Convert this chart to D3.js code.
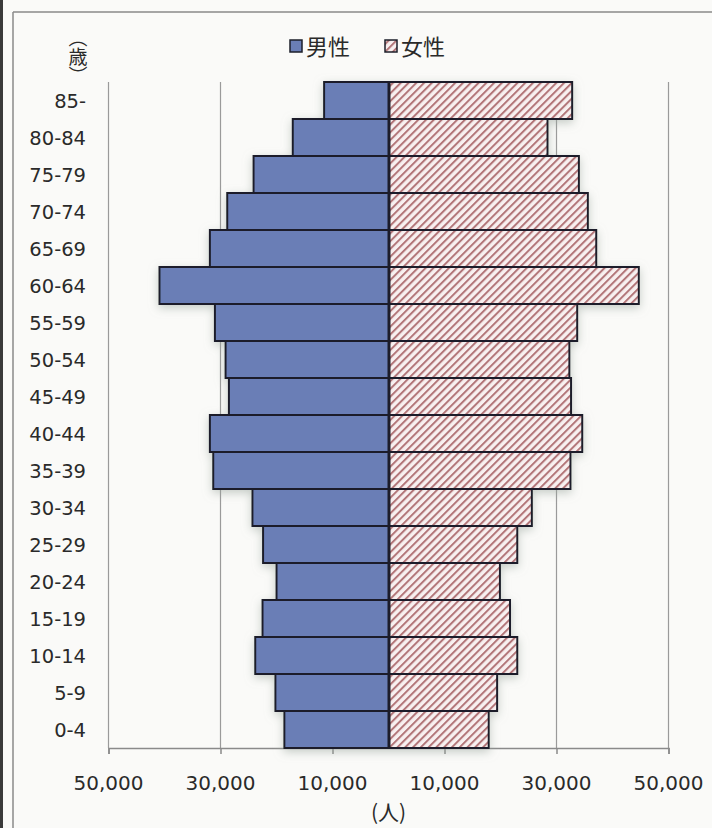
<!DOCTYPE html>
<meta charset="utf-8">
<style>
body { margin: 0; background: #fafaf8; }
svg { display: block; }
</style>
<svg width="712" height="828"></svg>
<script src="https://d3js.org/d3.v7.min.js"></script>
<script>

// age groups, top to bottom
var ages = ['85-', '80-84', '75-79', '70-74', '65-69', '60-64', '55-59', '50-54', '45-49',
            '40-44', '35-39', '30-34', '25-29', '20-24', '15-19', '10-14', '5-9', '0-4']

// population (persons)
var male = [11500, 17100, 24100, 28800, 31900, 40900, 31000, 29100, 28500,
            31900, 31300, 24300, 22400, 20000, 22500, 23800, 20200, 18600]
var female = [32800, 28400, 34000, 35600, 37100, 44700, 33700, 32300, 32600,
              34600, 32500, 25600, 23000, 19900, 21700, 23000, 19400, 17900]

var tickValues = [-50000, -30000, -10000, 10000, 30000, 50000]
var tickLabels = ['50,000', '30,000', '10,000', '10,000', '30,000', '50,000']

var svg = d3.select('svg')
var font = '"DejaVu Sans", sans-serif'
var cjk = '"Noto Sans CJK JP", sans-serif'

var plotTop = 82, plotBottom = 748

var x = d3.scaleLinear().domain([-50000, 50000]).range([108.5, 668.5])
var y = d3.scaleBand().domain(ages).range([plotTop, plotBottom]).padding(0)

// page frame (scan edges)
svg.append('rect').attr('x', 0).attr('y', 0).attr('width', 3).attr('height', 828).attr('fill', '#3a3a3a')
svg.append('line').attr('x1', 13).attr('y1', 12).attr('x2', 13).attr('y2', 828)
  .attr('stroke', '#8a8a8a').attr('stroke-width', 1.5)
svg.append('line').attr('x1', 13).attr('y1', 12).attr('x2', 712).attr('y2', 12)
  .attr('stroke', '#8a8a8a').attr('stroke-width', 1.5)

var defs = svg.append('defs')
var pat = defs.append('pattern')
  .attr('id', 'hatch')
  .attr('patternUnits', 'userSpaceOnUse')
  .attr('width', 5.5).attr('height', 5.5)
  .attr('patternTransform', 'rotate(45)')
pat.append('rect').attr('width', 5.5).attr('height', 5.5).attr('fill', '#f8f0f0')
pat.append('rect').attr('x', 0).attr('width', 2).attr('height', 5.5).attr('fill', '#b27578')

var shadow = defs.append('filter').attr('id', 'shadow')
  .attr('x', '-20%').attr('y', '-20%').attr('width', '140%').attr('height', '140%')
shadow.append('feDropShadow')
  .attr('dx', 0).attr('dy', 3).attr('stdDeviation', 5)
  .attr('flood-color', '#9aa69c').attr('flood-opacity', 0.55)

// gridlines
svg.append('g')
  .selectAll('line')
  .data(tickValues)
  .enter()
  .append('line')
  .attr('x1', function (d) { return x(d) })
  .attr('x2', function (d) { return x(d) })
  .attr('y1', plotTop)
  .attr('y2', plotBottom)
  .attr('stroke', '#9a9a9a')
  .attr('stroke-width', 1.2)

// bottom axis
var axis = svg.append('g')
  .attr('transform', 'translate(0,' + plotBottom + ')')
  .call(d3.axisBottom(x).tickValues(tickValues).tickSize(6).tickFormat(''))
axis.select('.domain').attr('stroke', '#8a8a8a').attr('stroke-width', 1.5)
axis.selectAll('.tick line').attr('stroke', '#8a8a8a').attr('stroke-width', 1.5)

svg.append('g')
  .selectAll('text')
  .data(tickValues)
  .enter()
  .append('text')
  .attr('x', function (d) { return x(d) })
  .attr('y', 790)
  .attr('text-anchor', 'middle')
  .style('font-family', font)
  .style('font-size', '20px')
  .style('fill', '#2a2a2a')
  .text(function (d, i) { return tickLabels[i] })

svg.append('text')
  .attr('x', x(0))
  .attr('y', 820)
  .attr('text-anchor', 'middle')
  .style('font-family', cjk)
  .style('font-size', '21px')
  .style('fill', '#2a2a2a')
  .text('(人)')

// bars
var bars = svg.append('g').attr('filter', 'url(#shadow)')

bars.selectAll('.male')
  .data(male)
  .enter()
  .append('rect')
  .attr('class', 'male')
  .attr('x', function (d) { return x(-d) })
  .attr('y', function (d, i) { return y(ages[i]) })
  .attr('width', function (d) { return x(0) - x(-d) })
  .attr('height', y.bandwidth())
  .attr('fill', '#6a7eb6')
  .attr('stroke', '#1c1f2a')
  .attr('stroke-width', 2)

bars.selectAll('.female')
  .data(female)
  .enter()
  .append('rect')
  .attr('class', 'female')
  .attr('x', x(0) + 1)
  .attr('y', function (d, i) { return y(ages[i]) })
  .attr('width', function (d) { return x(d) - x(0) - 1 })
  .attr('height', y.bandwidth())
  .attr('fill', 'url(#hatch)')
  .attr('stroke', '#1c1f2a')
  .attr('stroke-width', 2)

// age labels
svg.append('g')
  .selectAll('text')
  .data(ages)
  .enter()
  .append('text')
  .attr('x', 86)
  .attr('y', function (d) { return y(d) + y.bandwidth() / 2 + 7 })
  .attr('text-anchor', 'end')
  .style('font-family', font)
  .style('font-size', '19.5px')
  .style('fill', '#2a2a2a')
  .text(function (d) { return d })

// (歳) written vertically
svg.append('text')
  .attr('x', 78)
  .attr('y', 28)
  .style('writing-mode', 'vertical-rl')
  .style('font-family', cjk)
  .style('font-size', '19px')
  .style('fill', '#2a2a2a')
  .text('（歳）')

// legend
var legend = svg.append('g')
legend.append('rect').attr('x', 290).attr('y', 40).attr('width', 12).attr('height', 12)
  .attr('fill', '#6a7eb6').attr('stroke', '#1c1f2a').attr('stroke-width', 1.5)
legend.append('text').attr('x', 306).attr('y', 55)
  .style('font-family', cjk).style('font-size', '22px').style('fill', '#2a2a2a').text('男性')
legend.append('rect').attr('x', 385).attr('y', 40).attr('width', 12).attr('height', 12)
  .attr('fill', 'url(#hatch)').attr('stroke', '#1c1f2a').attr('stroke-width', 1.5)
legend.append('text').attr('x', 401).attr('y', 55)
  .style('font-family', cjk).style('font-size', '22px').style('fill', '#2a2a2a').text('女性')

</script>
